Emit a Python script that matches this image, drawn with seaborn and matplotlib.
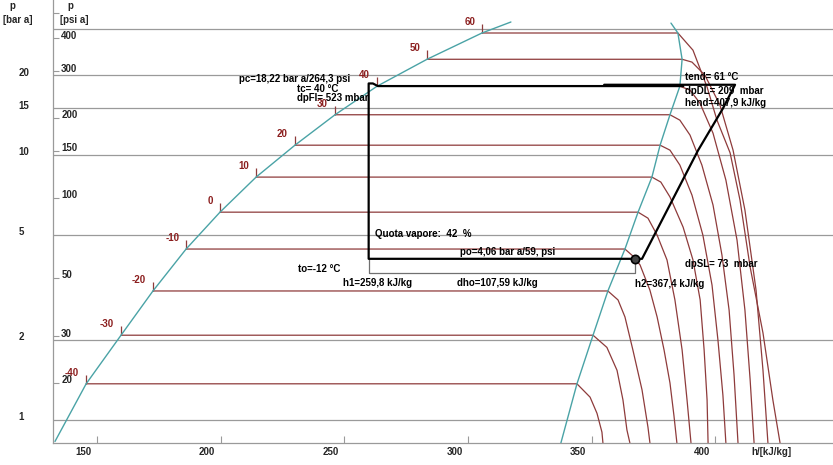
import seaborn as sns
import matplotlib.pyplot as plt
import pandas as pd
from matplotlib.ticker import NullLocator, FixedLocator
from matplotlib.transforms import ScaledTranslation

# isotherms of the log p-h diagram (h in kJ/kg, p in bar a)
temps = [-40, -30, -20, -10, 0, 10, 20, 30, 40, 50, 60]
p_sat = [1.37, 2.09, 3.07, 4.42, 6.09, 8.26, 10.9, 14.2, 18.2, 23.0, 28.9]
h_liq = [145.6, 159.7, 172.6, 186.0, 199.7, 214.3, 230.0, 246.2, 263.2, 283.4, 305.6]
h_vap = [344.0, 350.5, 356.5, 363.4, 368.7, 374.3, 377.6, 381.6, 385.6, 386.5, 384.8]

# saturation lines, with the ends where they leave the picture
liq_h = [133.0] + h_liq + [317.3]
liq_p = [0.83] + p_sat + [31.8]
vap_h = [337.5] + h_vap + [382.0]
vap_p = [0.819] + p_sat + [31.5]

# superheated part of each isotherm
sh_h = {
    -40: [349.3, 352.1, 354.1, 354.5],
    -30: [356.1, 360.2, 362.6, 364.2, 365.4],
    -20: [360.6, 363.4, 366.6, 370.3, 372.7, 373.5],
    -10: [366.6, 369.5, 373.5, 376.4, 379.2, 381.6, 383.2, 384.4],
    0: [372.7, 376.4, 380.4, 383.6, 386.5, 388.5, 390.1],
    10: [377.9, 381.6, 386.9, 390.9, 393.8, 395.4, 396.6, 397.0],
    20: [381.6, 385.6, 390.5, 394.9, 398.6, 401.0, 403.0, 404.2],
    30: [385.6, 389.7, 394.5, 399.0, 402.6, 405.5, 407.5, 409.1],
    40: [389.7, 393.7, 399.0, 404.2, 408.7, 411.9, 414.0, 415.6],
    50: [390.5, 395.7, 401.8, 407.1, 411.9, 416.4, 419.2, 421.2],
    60: [390.9, 396.6, 400.6, 405.9, 409.9, 414.0, 419.2, 423.2, 426.1],
}
sh_p = {
    -40: [1.22, 1.06, 0.90, 0.819],
    -30: [1.88, 1.54, 1.19, 0.917, 0.819],
    -20: [2.84, 2.45, 1.84, 1.30, 0.94, 0.819],
    -10: [4.16, 3.85, 3.09, 2.45, 1.84, 1.38, 1.04, 0.819],
    0: [5.78, 4.99, 4.02, 2.84, 1.84, 1.19, 0.819],
    10: [7.91, 6.95, 5.35, 4.02, 2.84, 1.84, 1.19, 0.819],
    20: [10.44, 9.17, 7.06, 4.99, 3.23, 2.00, 1.24, 0.819],
    30: [13.55, 11.9, 9.17, 6.48, 4.2, 2.60, 1.48, 0.819],
    40: [17.59, 15.72, 12.1, 8.05, 4.78, 2.60, 1.42, 0.819],
    50: [22.44, 20.04, 15.45, 10.44, 6.2, 3.09, 1.54, 0.819],
    60: [24.89, 18.06, 13.55, 10.2, 6.77, 3.78, 2.13, 1.19, 0.819],
}

# refrigeration cycle
h1 = 259.8
h2 = 367.4
hend = 407.9
po = 4.06
pc = 18.22
p_dis = 18.43
cyc_h = [h2, h1, h1, 261.5, 263.5, 387.0]
cyc_p = [po, po, 18.64, 18.64, pc, pc]
dis_h = [355.0, hend, 403.0, 392.9, 370.3, h2]
dis_p = [p_dis, p_dis, 15.0, 10.4, po, po]
dho_h = [h1, h1, h2, h2]
dho_p = [po, 3.59, 3.59, po]

bar_ticks = [1, 2, 5, 10, 15, 20]
grid_bar = [1, 2, 5, 10, 15, 20, 30]
psi_ticks = [20, 30, 50, 100, 150, 200, 300, 400, 500]
psi_labels = ['20', '30', '50', '100', '150', '200', '300', '400', '']
h_ticks = [150, 200, 250, 300, 350, 400]

sns.set_theme(style='white')
plt.rcParams['font.family'] = ['Liberation Sans', 'DejaVu Sans']
plt.rcParams['font.weight'] = 'bold'

ISO = '#8e3b3b'
LBL = '#8b1e1e'
SAT = '#4aa3a6'
GRID = '#9a9a9a'

rows = []
for i, t in enumerate(temps):
    hs = [h_liq[i], h_vap[i]] + sh_h[t]
    ps = [p_sat[i], p_sat[i]] + sh_p[t]
    for k, (h, p) in enumerate(zip(hs, ps)):
        rows.append({'T': t, 'k': k, 'h': h, 'p': p})
iso = pd.DataFrame(rows)
sat = pd.DataFrame({'h': liq_h + vap_h, 'p': liq_p + vap_p,
                    'side': ['liq'] * len(liq_h) + ['vap'] * len(vap_h)})

fig = plt.figure(figsize=(8.33, 4.65), dpi=100)
ax = fig.add_axes([53 / 833, 22 / 465, 780 / 833, 443 / 465])
ax.set_yscale('log')

for p in grid_bar:
    ax.axhline(p, color=GRID, lw=0.9, zorder=1)

sns.lineplot(data=iso, x='h', y='p', units='T', estimator=None, sort=False,
             color=ISO, lw=0.9, ax=ax, zorder=2)
sns.lineplot(data=sat, x='h', y='p', units='side', estimator=None, sort=False,
             color=SAT, lw=1.0, ax=ax, zorder=3)

# small flags + temperature labels at the bubble line
ax.vlines(h_liq, p_sat, [p * 1.08 for p in p_sat], color=ISO, lw=0.9, zorder=2)
lab_off = ScaledTranslation(-5 / 72, 8 / 72, fig.dpi_scale_trans)
for t, h, p in zip(temps, h_liq, p_sat):
    ax.text(h, p, str(t), color=LBL, fontsize=7, ha='right', va='center',
            transform=ax.transData + lab_off)

# cycle
ax.plot(dho_h, dho_p, color='#707070', lw=0.9, zorder=4)
ax.plot(cyc_h, cyc_p, color='black', lw=1.6, zorder=5)
ax.plot(dis_h, dis_p, color='black', lw=1.6, zorder=5)
ax.plot([h2], [po], marker='o', ms=6, mfc='#444444', mec='black', mew=1.2, zorder=6)

txt = dict(fontsize=7, color='black', va='center', ha='left', zorder=7)
ax.text(207.4, 19.36, 'pc=18,22 bar a/264,3 psi', **txt)
ax.text(230.8, 17.74, 'tc= 40 °C', **txt)
ax.text(230.8, 16.41, 'dpFl= 523 mbar', **txt)
ax.text(387.7, 19.69, 'tend= 61 °C', **txt)
ax.text(387.7, 17.43, 'dpDL= 209  mbar', **txt)
ax.text(387.7, 15.72, 'hend=407,9 kJ/kg', **txt)
ax.text(262.4, 5.03, 'Quota vapore:  42  %', **txt)
ax.text(296.7, 4.30, 'po=4,06 bar a/59, psi', **txt)
ax.text(231.2, 3.71, 'to=-12 °C', **txt)
ax.text(249.4, 3.29, 'h1=259,8 kJ/kg', **txt)
ax.text(295.5, 3.29, 'dho=107,59 kJ/kg', **txt)
ax.text(367.5, 3.26, 'h2=367,4 kJ/kg', **txt)
ax.text(387.7, 3.88, 'dpSL= 73  mbar', **txt)

# axes
ax.set_xlim(132.2, 447.5)
ax.set_ylim(0.819, 38.5)
ax.set_xlabel('')
ax.set_ylabel('')
for s in ['top', 'right']:
    ax.spines[s].set_visible(False)
for s in ['left', 'bottom']:
    ax.spines[s].set_color(GRID)
    ax.spines[s].set_linewidth(0.9)

ax.xaxis.set_major_locator(FixedLocator(h_ticks))
ax.tick_params(axis='x', direction='in', length=5, width=0.8, color=GRID,
               labelbottom=False, bottom=True)
xoff = ScaledTranslation(-4 / 72, 0, fig.dpi_scale_trans)
for h in h_ticks:
    ax.text(h, -0.02, str(h), fontsize=7, ha='right', va='center',
            transform=ax.get_xaxis_transform() + xoff)
ax.text(0.895, -0.02, 'h/[kJ/kg]', fontsize=7, ha='left', va='center',
        transform=ax.transAxes)

ax.yaxis.set_major_locator(FixedLocator([v / 14.5038 for v in psi_ticks]))
ax.yaxis.set_minor_locator(NullLocator())
ax.tick_params(axis='y', direction='in', length=4, width=0.8, color=GRID,
               labelleft=False, left=True)
yoff = ScaledTranslation(0, 2 / 72, fig.dpi_scale_trans)
for v, s in zip(psi_ticks, psi_labels):
    ax.text(0.0105, v / 14.5038, s, fontsize=7, ha='left', va='center',
            transform=ax.get_yaxis_transform() + yoff)
for v in bar_ticks:
    ax.text(-0.044, v, str(v), fontsize=7, ha='left', va='center',
            transform=ax.get_yaxis_transform() + yoff, clip_on=False)

fig.text(12 / 833, 1 - 6 / 465, 'p', fontsize=7, ha='center', va='center')
fig.text(18 / 833, 1 - 20 / 465, '[bar a]', fontsize=7, ha='center', va='center')
fig.text(70 / 833, 1 - 6 / 465, 'p', fontsize=7, ha='center', va='center')
fig.text(74 / 833, 1 - 20 / 465, '[psi a]', fontsize=7, ha='center', va='center')

fig.savefig('out.png', dpi=100)
